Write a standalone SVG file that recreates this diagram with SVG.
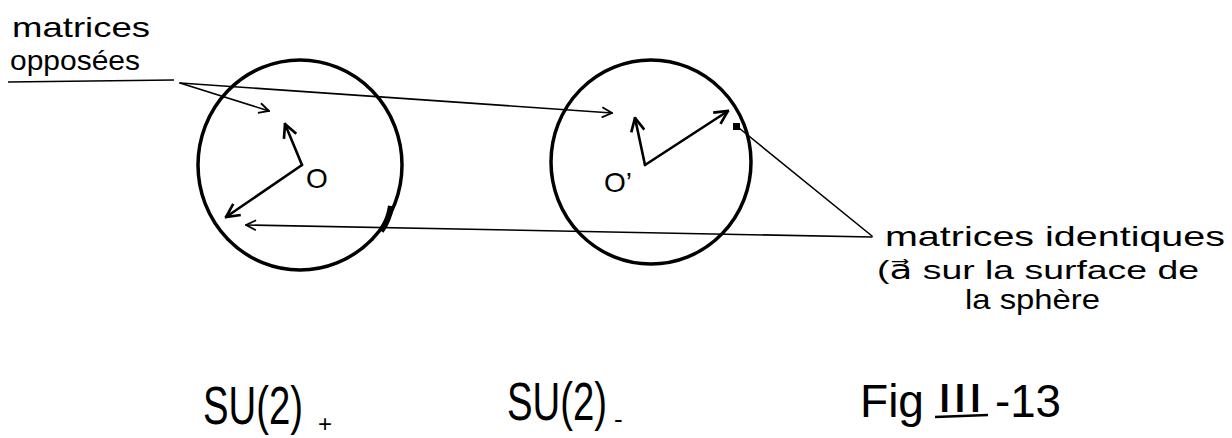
<svg xmlns="http://www.w3.org/2000/svg" width="1232" height="438" viewBox="0 0 1232 438">
<style>
.t{font-family:"Liberation Sans","DejaVu Sans",sans-serif;fill:#000}
.sphere{fill:none;stroke:#000;stroke-width:3.5}
.vec{fill:none;stroke:#000;stroke-width:2.6;stroke-linecap:round}
.conn{fill:none;stroke:#000;stroke-width:1.6;stroke-linecap:round}
</style>
<defs>
<marker id="open" viewBox="0 0 12 12" refX="11" refY="6" markerWidth="12" markerHeight="12" markerUnits="userSpaceOnUse" orient="auto">
<path d="M1,1 L11,6 L1,11" fill="none" stroke="#000" stroke-width="1.8"/>
</marker>
<marker id="vhead" viewBox="0 0 12 12" refX="11" refY="6" markerWidth="16" markerHeight="16" markerUnits="userSpaceOnUse" orient="auto">
<path d="M1,1 L11,6 L1,11" fill="none" stroke="#000" stroke-width="2"/>
</marker>
</defs>
<rect width="1232" height="438" fill="#fff"/>

<g id="sphere-left">
<ellipse class="sphere" cx="300" cy="165" rx="102" ry="105"/>
<path d="M391,206 Q389,220 381,231" fill="none" stroke="#000" stroke-width="6"/>
<line class="vec" x1="302" y1="165" x2="285" y2="124" marker-end="url(#vhead)"/>
<line class="vec" x1="302" y1="165" x2="226" y2="217" marker-end="url(#vhead)"/>
<text class="t" x="317" y="188" font-size="28" text-anchor="middle">O</text>
</g>

<g id="sphere-right">
<ellipse class="sphere" cx="651" cy="162" rx="100" ry="102"/>
<line class="vec" x1="645" y1="165" x2="635" y2="118" marker-end="url(#vhead)"/>
<line class="vec" x1="645" y1="165" x2="728" y2="111" marker-end="url(#vhead)"/>
<rect x="733" y="123" width="7" height="7" fill="#000"/>
<text class="t" x="618" y="192" font-size="28" text-anchor="middle">O’</text>
</g>

<g id="label-opposees">
<text class="t" x="12" y="37" font-size="28" textLength="138" lengthAdjust="spacingAndGlyphs">matrices</text>
<text class="t" x="10" y="70" font-size="28" textLength="130" lengthAdjust="spacingAndGlyphs">opposées</text>
<line x1="8" y1="82" x2="174" y2="80" stroke="#000" stroke-width="1.6"/>
</g>

<g id="label-identiques">
<text class="t" x="885" y="246" font-size="28" textLength="340" lengthAdjust="spacingAndGlyphs">matrices identiques</text>
<text class="t" x="877" y="279" font-size="26" textLength="322" lengthAdjust="spacingAndGlyphs">(a⃗ sur la surface de</text>
<text class="t" x="965" y="309" font-size="28" textLength="135" lengthAdjust="spacingAndGlyphs">la sphère</text>
</g>

<g id="connectors">
<line class="conn" x1="180" y1="83" x2="269" y2="111" marker-end="url(#open)"/>
<line class="conn" x1="180" y1="83" x2="612" y2="113" marker-end="url(#open)"/>
<line class="conn" x1="872" y1="237" x2="246" y2="225" marker-end="url(#open)"/>
<line class="conn" x1="872" y1="236" x2="739" y2="128"/>
</g>

<g id="captions">
<text class="t" font-size="54" transform="translate(203,424) scale(0.71,1)">SU(2)</text>
<text class="t" x="318" y="432" font-size="24">+</text>
<text class="t" font-size="54" transform="translate(507,420) scale(0.71,1)">SU(2)</text>
<text class="t" x="614" y="428" font-size="26">-</text>
<text class="t" x="860" y="417" font-size="46" textLength="64" lengthAdjust="spacingAndGlyphs">Fig</text>
<text class="t" x="937" y="412" font-size="40" textLength="46" lengthAdjust="spacingAndGlyphs">III</text>
<line x1="935" y1="417" x2="988" y2="415" stroke="#000" stroke-width="2.5"/>
<text class="t" x="995" y="417" font-size="46" textLength="66" lengthAdjust="spacingAndGlyphs">-13</text>
</g>
</svg>
